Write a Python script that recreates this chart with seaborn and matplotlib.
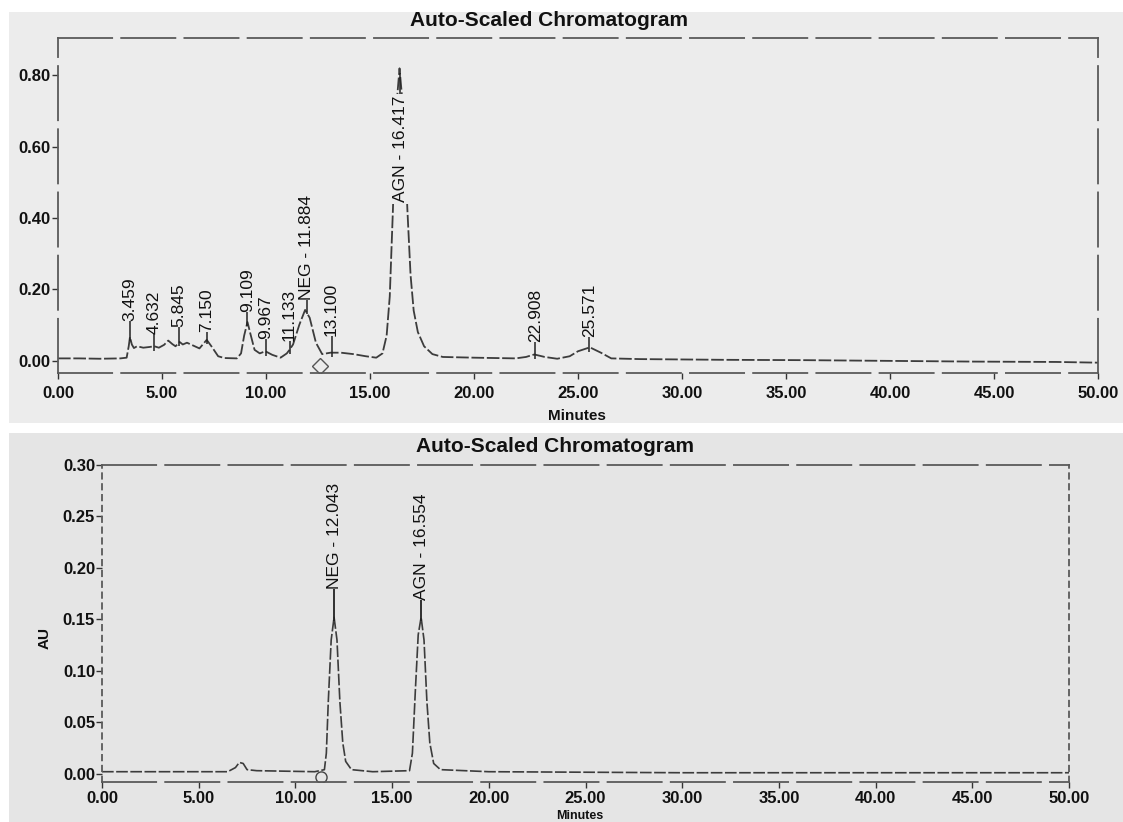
import numpy as np
import matplotlib.pyplot as plt
import matplotlib.patches as mpatches
import seaborn as sns
import pandas as pd

# upper run - trace (minutes, AU)
top_time = [0.0, 1.0, 2.0, 3.0, 3.3, 3.40, 3.46, 3.55, 3.65, 3.8, 4.1, 4.4, 4.63, 4.85,
            5.1, 5.3, 5.5, 5.65, 5.85, 6.0, 6.2, 6.5, 6.8, 7.15, 7.4, 7.7, 8.0, 8.6,
            8.8, 8.95, 9.11, 9.25, 9.45, 9.7, 9.97, 10.3, 10.7, 11.0, 11.13, 11.3, 11.6,
            11.88, 12.1, 12.4, 12.7, 13.1, 13.6, 14.2, 14.8, 15.3, 15.6, 15.8, 15.95,
            16.1, 16.25, 16.42, 16.6, 16.8, 16.95, 17.1, 17.3, 17.6, 18.0, 18.5, 20.0,
            22.0, 22.5, 22.9, 23.4, 24.0, 24.6, 25.0, 25.57, 26.1, 26.6, 28.0, 32.0,
            36.0, 40.0, 44.0, 48.0, 50.0]
top_au = [0.006, 0.006, 0.005, 0.006, 0.008, 0.040, 0.066, 0.045, 0.035, 0.040, 0.036,
          0.038, 0.040, 0.036, 0.044, 0.056, 0.046, 0.040, 0.052, 0.045, 0.050, 0.042,
          0.034, 0.058, 0.038, 0.012, 0.007, 0.006, 0.020, 0.070, 0.108, 0.075, 0.030,
          0.020, 0.026, 0.016, 0.008, 0.020, 0.030, 0.045, 0.100, 0.142, 0.120, 0.050,
          0.018, 0.022, 0.022, 0.018, 0.012, 0.008, 0.020, 0.070, 0.180, 0.420, 0.700,
          0.820, 0.700, 0.420, 0.240, 0.140, 0.080, 0.040, 0.018, 0.010, 0.008, 0.006,
          0.010, 0.017, 0.010, 0.005, 0.012, 0.026, 0.037, 0.022, 0.006, 0.004, 0.002,
          0.001, -0.001, -0.003, -0.004, -0.006]

top_labels = ["3.459", "4.632", "5.845", "7.150", "9.109", "9.967", "11.133",
              "NEG - 11.884", "13.100", "AGN - 16.417", "22.908", "25.571"]
top_label_t = [3.46, 4.60, 5.80, 7.15, 9.10, 10.0, 11.13, 11.97, 13.15, 16.45, 22.95, 25.55]
top_label_au = [0.110, 0.075, 0.093, 0.080, 0.135, 0.060, 0.055, 0.170, 0.068, 0.445, 0.053, 0.067]
top_apex = [0.066, 0.040, 0.052, 0.058, 0.108, 0.026, 0.030, 0.142, 0.022, 0.820, 0.017, 0.037]

# lower run
bot_time = [0.0, 3.0, 6.5, 6.9, 7.1, 7.3, 7.5, 8.0, 11.0, 11.5, 11.6, 11.7, 11.85, 12.0,
            12.15, 12.3, 12.45, 12.6, 12.9, 14.0, 15.9, 16.05, 16.2, 16.35, 16.5, 16.65,
            16.8, 16.95, 17.15, 17.5, 20.0, 30.0, 40.0, 50.0]
bot_au = [0.002, 0.002, 0.002, 0.006, 0.011, 0.010, 0.004, 0.003, 0.002, 0.004, 0.020,
          0.070, 0.130, 0.152, 0.130, 0.070, 0.030, 0.012, 0.004, 0.002, 0.003, 0.020,
          0.080, 0.135, 0.152, 0.130, 0.070, 0.030, 0.010, 0.004, 0.002, 0.001, 0.001, 0.001]

bot_labels = ["NEG - 12.043", "AGN - 16.554"]
bot_label_t = [12.0, 16.52]
bot_label_au = [0.180, 0.169]
bot_apex = [0.152, 0.152]

top_ticks_y = [0.0, 0.2, 0.4, 0.6, 0.8]
bot_ticks_y = [0.0, 0.05, 0.10, 0.15, 0.20, 0.25, 0.30]
ticks_x = [0, 5, 10, 15, 20, 25, 30, 35, 40, 45, 50]

df_top = pd.DataFrame({"time": top_time, "au": top_au})
df_bot = pd.DataFrame({"time": bot_time, "au": bot_au})

sns.set_theme(style="white")
plt.rcParams['font.family'] = ['Liberation Sans', 'DejaVu Sans']

W, H = 1123, 822
fig = plt.figure(figsize=(W / 100, H / 100), dpi=100)
fig.patch.set_facecolor('white')

# scanned grey panels
fig.add_artist(mpatches.Rectangle((9 / W, 1 - 423 / H), 1 - 9 / W, (423 - 12) / H,
                                  transform=fig.transFigure, fc='#ececec', ec='none', zorder=0))
fig.add_artist(mpatches.Rectangle((9 / W, 0), 1 - 9 / W, (822 - 433) / H,
                                  transform=fig.transFigure, fc='#e5e5e5', ec='none', zorder=0))

ax1 = fig.add_axes([58 / W, (H - 373) / H, 1040 / W, (373 - 38) / H])
ax2 = fig.add_axes([102 / W, (H - 782) / H, 967 / W, (782 - 465) / H])

trace_col = '#3c3c3c'
sns.lineplot(data=df_top, x="time", y="au", ax=ax1, color=trace_col, lw=1.3,
             estimator=None, sort=False, linestyle=(0, (7, 1.5)))
sns.lineplot(data=df_bot, x="time", y="au", ax=ax2, color=trace_col, lw=1.2,
             estimator=None, sort=False, linestyle=(0, (7, 1.5)))

# apex ticks and peak labels
ax1.vlines(top_label_t, np.array(top_apex) - 0.012, top_label_au, color='#222222', lw=1.1)
for lab, t, y in zip(top_labels, top_label_t, top_label_au):
    kw = {}
    if lab.startswith("AGN"):
        kw['bbox'] = dict(boxstyle='square,pad=0.1', fc='#ececec', ec='none')
    ax1.text(t, y, lab, rotation=90, ha='center', va='bottom', fontsize=12.5,
             color='#111111', zorder=5, **kw)

ax2.vlines(bot_label_t, np.array(bot_apex) - 0.004, bot_label_au, color='#222222', lw=1.3)
for lab, t, y in zip(bot_labels, bot_label_t, bot_label_au):
    ax2.text(t, y, lab, rotation=90, ha='center', va='bottom', fontsize=12.5,
             color='#111111', zorder=5)

# integration markers
ax1.plot([12.6], [-0.014], marker='D', ms=8, mfc='none', mec='#555555', ls='none')
ax2.plot([11.3], [-0.003], marker='o', ms=8, mfc='none', mec='#444444', ls='none')

for ax, yt, ylim, tlen, xpad in [(ax1, top_ticks_y, (-0.035, 0.905), 4.5, 5),
                                 (ax2, bot_ticks_y, (-0.008, 0.300), 4.0, 2.5)]:
    ax.patch.set_alpha(0)
    ax.set_xlim(0, 50)
    ax.set_ylim(*ylim)
    ax.set_xlabel("")
    ax.set_ylabel("")
    ax.set_xticks(ticks_x)
    ax.set_xticklabels([f"{v:.2f}" for v in ticks_x])
    ax.set_yticks(yt)
    ax.set_yticklabels([f"{v:.2f}" for v in yt])
    ax.tick_params(axis='both', direction='out', length=tlen, width=1.0,
                   color='#333333', labelcolor='#111111', labelsize=12)
    ax.tick_params(axis='y', pad=1, left=True)
    ax.tick_params(axis='x', pad=xpad, bottom=True)
    for lbl in ax.get_xticklabels() + ax.get_yticklabels():
        lbl.set_fontweight('bold')
    for sp in ax.spines.values():
        sp.set_visible(True)
        sp.set_color('#5a5a5a')
        sp.set_linewidth(1.3)
        sp.set_linestyle((0, (30, 5)))
    ax.grid(False)

ax2.spines['left'].set_linestyle((0, (3, 3)))
ax2.spines['right'].set_linestyle((0, (3, 3)))

fig.text(549 / W, 1 - 21 / H, "Auto-Scaled Chromatogram", ha='center', va='center',
         fontsize=15, fontweight='bold', color='#111111')
fig.text(555 / W, 1 - 446 / H, "Auto-Scaled Chromatogram", ha='center', va='center',
         fontsize=15, fontweight='bold', color='#111111')
fig.text(577 / W, 1 - 416 / H, "Minutes", ha='center', va='center',
         fontsize=11, fontweight='bold', color='#111111')
fig.text(580 / W, 1 - 816 / H, "Minutes", ha='center', va='center',
         fontsize=9, fontweight='bold', color='#111111')
fig.text(45 / W, 1 - 638 / H, "AU", ha='center', va='center', rotation=90,
         fontsize=11, fontweight='bold', color='#111111')

fig.savefig("out.png", dpi=100)
